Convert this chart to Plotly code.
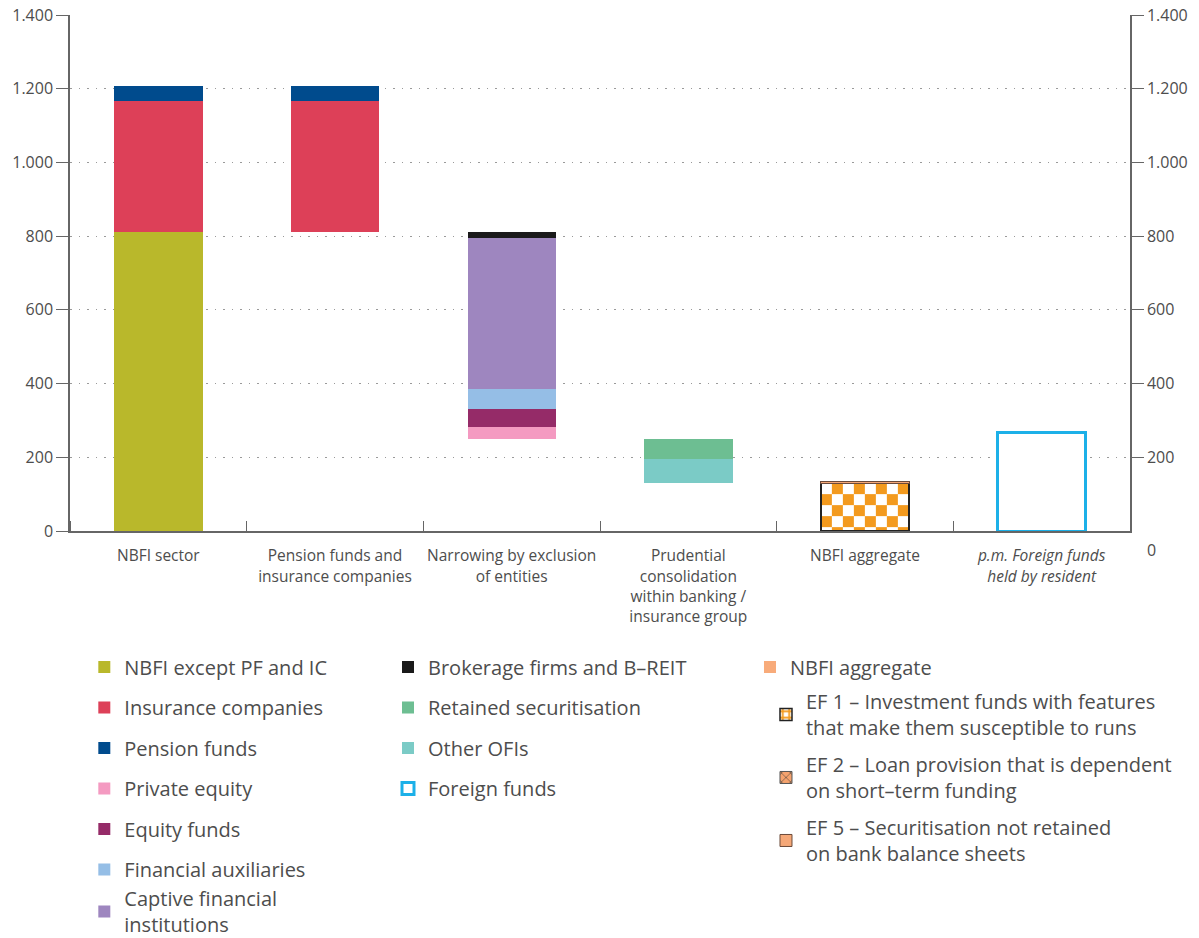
import plotly.graph_objects as go

categories = [
    "NBFI sector",
    "Pension funds and<br>insurance companies",
    "Narrowing by exclusion<br>of entities",
    "Prudential<br>consolidation<br>within banking /<br>insurance group",
    "NBFI aggregate",
    "<i>p.m. Foreign funds<br>held by resident</i>",
]
positions = list(range(len(categories)))

# invisible offsets for the floating (waterfall) bars
offsets = [0, 810, 250, 130, 0, 0]

nbfi_except = [810, None, None, None, None, None]
insurance = [358, 358, None, None, None, None]
pension = [40, 40, None, None, None, None]
private_equity = [None, None, 32, None, None, None]
equity_funds = [None, None, 49, None, None, None]
fin_aux = [None, None, 54, None, None, None]
captive = [None, None, 410, None, None, None]
brokerage = [None, None, 16, None, None, None]
other_ofis = [None, None, None, 65, None, None]
retained_sec = [None, None, None, 55, None, None]
nbfi_agg = [None, None, None, None, 0, None]
ef1 = [None, None, None, None, 130, None]
ef2 = [None, None, None, None, 0, None]
ef5 = [None, None, None, None, 4, None]
foreign = [None, None, None, None, None, 266]

y_ticks = [0, 200, 400, 600, 800, 1000, 1200, 1400]
y_ticks_right = [200, 400, 600, 800, 1000, 1200, 1400]

FONT = "Open Sans"
TXT = "#4d4d4d"
AX = "#666666"
ORANGE = "#F39A1E"
BAR_WIDTH = 0.5

fig = go.Figure()

# --- checkerboard texture for EF 1 (drawn under the outlined EF 1 bar) ---
ef1_idx = next(i for i, v in enumerate(ef1) if v)
ef1_val = ef1[ef1_idx]
cols = 8
cell = 30  # texture square, in axis units
x_edges = [ef1_idx - BAR_WIDTH / 2 + BAR_WIDTH * k / cols for k in range(cols + 1)]
y_edges = []
v = ef1_val
while v > 0:
    y_edges.append(v)
    v -= cell
y_edges.append(0)
y_edges = sorted(y_edges)
nrows = len(y_edges) - 1
z = [[(nrows - 1 - r + c) % 2 for c in range(cols)] for r in range(nrows)]
fig.add_heatmap(x=x_edges, y=y_edges, z=z, zmin=0, zmax=1,
                colorscale=[[0, "#FFFFFF"], [1, ORANGE]], showscale=False,
                hoverinfo="skip", zsmooth=False)

fig.add_bar(x=positions, y=offsets,
            marker=dict(color="rgba(0,0,0,0)", line=dict(width=0)),
            showlegend=False, hoverinfo="skip")


def add(name, vals, color, legend, rank, line_color=None, line_width=0,
        pattern=None, showlegend=True):
    fig.add_bar(
        x=positions, y=vals, name=name, width=BAR_WIDTH,
        marker=dict(color=color,
                    line=dict(color=line_color or color, width=line_width),
                    pattern=pattern),
        legend=legend, legendgroup=name, legendrank=rank, showlegend=showlegend,
    )


EF1_NAME = "EF 1 – Investment funds with features<br>that make them susceptible to runs"

add("NBFI except PF and IC", nbfi_except, "#B9B82B", "legend", 1)
add("Insurance companies", insurance, "#DD4058", "legend", 2)
add("Pension funds", pension, "#004B8D", "legend", 3)
add("Private equity", private_equity, "#F49AC1", "legend", 4)
add("Equity funds", equity_funds, "#952B68", "legend", 5)
add("Financial auxiliaries", fin_aux, "#95BEE6", "legend", 6)
add("Captive financial<br>institutions", captive, "#9E86BF", "legend5", 7)
add("Brokerage firms and B–REIT", brokerage, "#1a1a1a", "legend2", 1)
add("Other OFIs", other_ofis, "#7BCBC6", "legend2", 3)
add("Retained securitisation", retained_sec, "#6DBE92", "legend2", 2)
add("NBFI aggregate", nbfi_agg, "#F8AB7A", "legend3", 1)
# EF 1 bar: outline over the checker texture
add(EF1_NAME, ef1, "rgba(0,0,0,0)", "legend4", 1, line_color="#222222",
    line_width=1.5, showlegend=False)
# EF 1 legend entry
add(EF1_NAME, [0 if v is not None else None for v in ef1], "#FFFFFF", "legend4", 1,
    line_color="#222222", line_width=1.5,
    pattern=dict(shape="+", fgcolor=ORANGE, bgcolor="#FFFFFF", size=8,
                 solidity=0.5, fillmode="overlay", fgopacity=1))
add("EF 2 – Loan provision that is dependent<br>on short–term funding", ef2,
    "#F5A36E", "legend4", 2, line_color="#555555", line_width=1,
    pattern=dict(shape="x", fgcolor="#333333", size=8, solidity=0.15,
                 fillmode="overlay", fgopacity=1))
add("EF 5 – Securitisation not retained<br>on bank balance sheets", ef5,
    "#F5A878", "legend4", 3, line_color="#6b4a3a", line_width=1)
add("Foreign funds", foreign, "#FFFFFF", "legend2", 4,
    line_color="#1CB0E8", line_width=3)

# empty carrier so the right-hand axis is drawn
fig.add_scatter(x=positions, y=offsets, yaxis="y2", mode="none",
                showlegend=False, hoverinfo="skip")

legend_common = dict(
    orientation="v", xanchor="left", yanchor="top",
    font=dict(family=FONT, size=20, color=TXT),
    bgcolor="rgba(0,0,0,0)", tracegroupgap=11.5, itemwidth=30,
    traceorder="grouped", itemclick=False, itemdoubleclick=False,
)
legend4_opts = dict(legend_common, tracegroupgap=8)

fig.update_layout(
    template="none",
    width=1199, height=938,
    barmode="stack", bargap=0.5,
    separators=",.",
    plot_bgcolor="white", paper_bgcolor="white",
    margin=dict(l=70, r=69, t=15, b=407, autoexpand=False),
    font=dict(family=FONT, size=15, color=TXT),
    legend=dict(x=0.0135, y=-0.2258, **legend_common),
    legend2=dict(x=0.300, y=-0.2258, **legend_common),
    legend3=dict(x=0.6415, y=-0.2258, **legend_common),
    legend4=dict(x=0.6566, y=-0.2926, **legend4_opts),
    legend5=dict(x=0.0135, y=-0.6744, **legend_common),
    xaxis=dict(
        range=[-0.5, len(categories) - 0.5],
        tickmode="array", tickvals=positions, ticktext=categories,
        tickangle=0, ticks="", ticklen=0,
        showline=True, linecolor=AX, linewidth=1.5,
        showgrid=False, zeroline=False,
        tickfont=dict(family=FONT, size=15.5, color=TXT),
        ticklabelstandoff=10,
        minor=dict(tickmode="array",
                   tickvals=[p - 0.5 for p in positions] + [positions[-1] + 0.5],
                   ticks="inside", ticklen=10, tickcolor=AX, tickwidth=1.2,
                   showgrid=False),
    ),
    yaxis=dict(
        range=[0, 1400], tickvals=y_ticks, tickformat=",d",
        showline=True, linecolor=AX, linewidth=1.5,
        ticks="outside", ticklen=12, tickcolor=AX, tickwidth=1.2,
        showgrid=True, gridcolor="#9a9a9a", griddash="1.5px,7px", gridwidth=1,
        zeroline=False, tickfont=dict(family=FONT, size=16, color=TXT),
    ),
    yaxis2=dict(
        range=[0, 1400], overlaying="y", side="right", anchor="x",
        tickmode="array", tickvals=y_ticks_right, tickformat=",d",
        showline=True, linecolor=AX, linewidth=1.5,
        ticks="outside", ticklen=12, tickcolor=AX, tickwidth=1.2,
        showgrid=False, zeroline=False,
        tickfont=dict(family=FONT, size=16, color=TXT),
    ),
    annotations=[dict(
        text="0", xref="paper", yref="y", x=1, y=0, xanchor="left",
        yanchor="middle", xshift=15, yshift=-19, showarrow=False,
        font=dict(family=FONT, size=16, color=TXT),
    )],
)

fig.write_html("out.html", config={"displayModeBar": False},
               post_script="document.body.style.margin='0px';")
